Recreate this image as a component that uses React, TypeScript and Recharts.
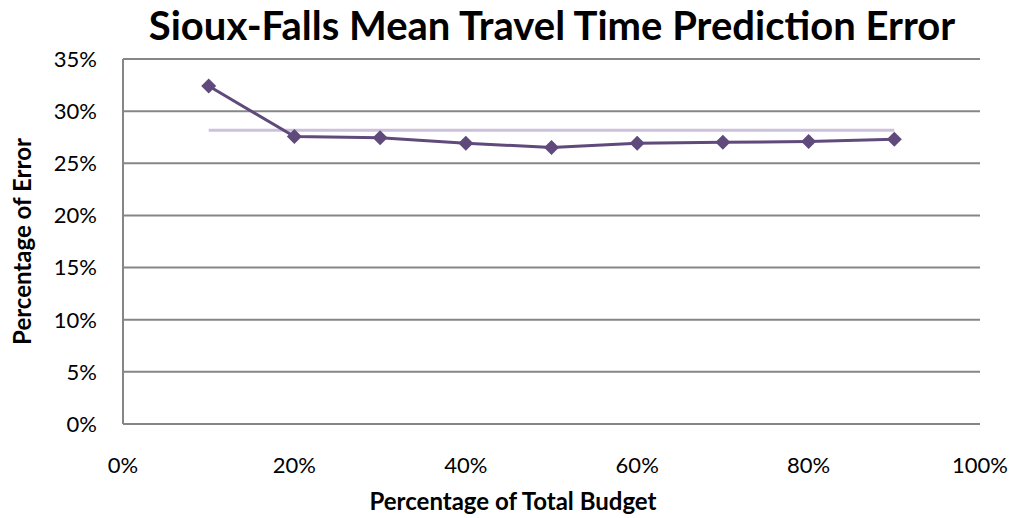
import { LineChart, Line, XAxis, YAxis, CartesianGrid, Label } from 'recharts';

const budgetShare = [0.1, 0.2, 0.3, 0.4, 0.5, 0.6, 0.7, 0.8, 0.9];
const predictionError = [0.3241, 0.2756, 0.2746, 0.2693, 0.2651, 0.2693, 0.2702, 0.2708, 0.2731];
const meanError = 0.2817;
const xTicks = [0, 0.2, 0.4, 0.6, 0.8, 1];
const yTicks = [0, 0.05, 0.1, 0.15, 0.2, 0.25, 0.3, 0.35];

const data = budgetShare.map((x, i) => ({ x, error: predictionError[i], mean: meanError }));

const pct = (v: number) => `${Math.round(v * 100)}%`;
const font = 'Lato, "Open Sans", sans-serif';

const Diamond = (props: any) => {
  const { cx, cy } = props;
  if (cx == null || cy == null) return null;
  const r = 7.5;
  return (
    <polygon
      points={`${cx},${cy - r} ${cx + r},${cy} ${cx},${cy + r} ${cx - r},${cy}`}
      fill="#604A7B"
    />
  );
};

export default function App() {
  return (
    <div style={{ position: 'absolute', left: 0, top: 0, width: 1016, height: 518, background: '#fff', fontFamily: font }}>
      <div
        style={{
          position: 'absolute',
          left: 0,
          width: 1104,
          top: 1,
          textAlign: 'center',
          fontSize: 40,
          fontWeight: 700,
          color: '#000',
        }}
      >
        Sioux-Falls Mean Travel Time Prediction Error
      </div>
      <LineChart width={1016} height={518} data={data} margin={{ top: 59, right: 36, bottom: 24, left: 23 }}>
        <CartesianGrid vertical={false} stroke="#868686" strokeWidth={2} />
        <XAxis
          dataKey="x"
          type="number"
          domain={[0, 1]}
          ticks={xTicks}
          tickFormatter={pct}
          stroke="#868686"
          strokeWidth={2}
          tickLine={false}
          tickSize={0}
          tickMargin={33}
          tick={{ fill: '#000', fontSize: 22, fontFamily: font }}
          height={70}
        />
        <YAxis
          type="number"
          domain={[0, 0.35]}
          ticks={yTicks}
          tickFormatter={pct}
          stroke="#868686"
          strokeWidth={2}
          tickLine={false}
          tickSize={0}
          tickMargin={26}
          tick={{ fill: '#000', fontSize: 22, fontFamily: font }}
          width={100}
        >
          <Label
            value="Percentage of Error"
            angle={-90}
            position="insideLeft"
            offset={-1}
            style={{ textAnchor: 'middle', fill: '#000', fontSize: 24, fontWeight: 700, fontFamily: font }}
          />
        </YAxis>
        <Line
          dataKey="mean"
          stroke="#CCC1DA"
          strokeWidth={3}
          dot={false}
          activeDot={false}
          isAnimationActive={false}
        />
        <Line
          dataKey="error"
          stroke="#604A7B"
          strokeWidth={3}
          dot={<Diamond />}
          activeDot={false}
          isAnimationActive={false}
        />
      </LineChart>
      <div
        style={{
          position: 'absolute',
          left: 213,
          width: 600,
          top: 486,
          textAlign: 'center',
          fontSize: 24,
          fontWeight: 700,
          color: '#000',
        }}
      >
        Percentage of Total Budget
      </div>
    </div>
  );
}
